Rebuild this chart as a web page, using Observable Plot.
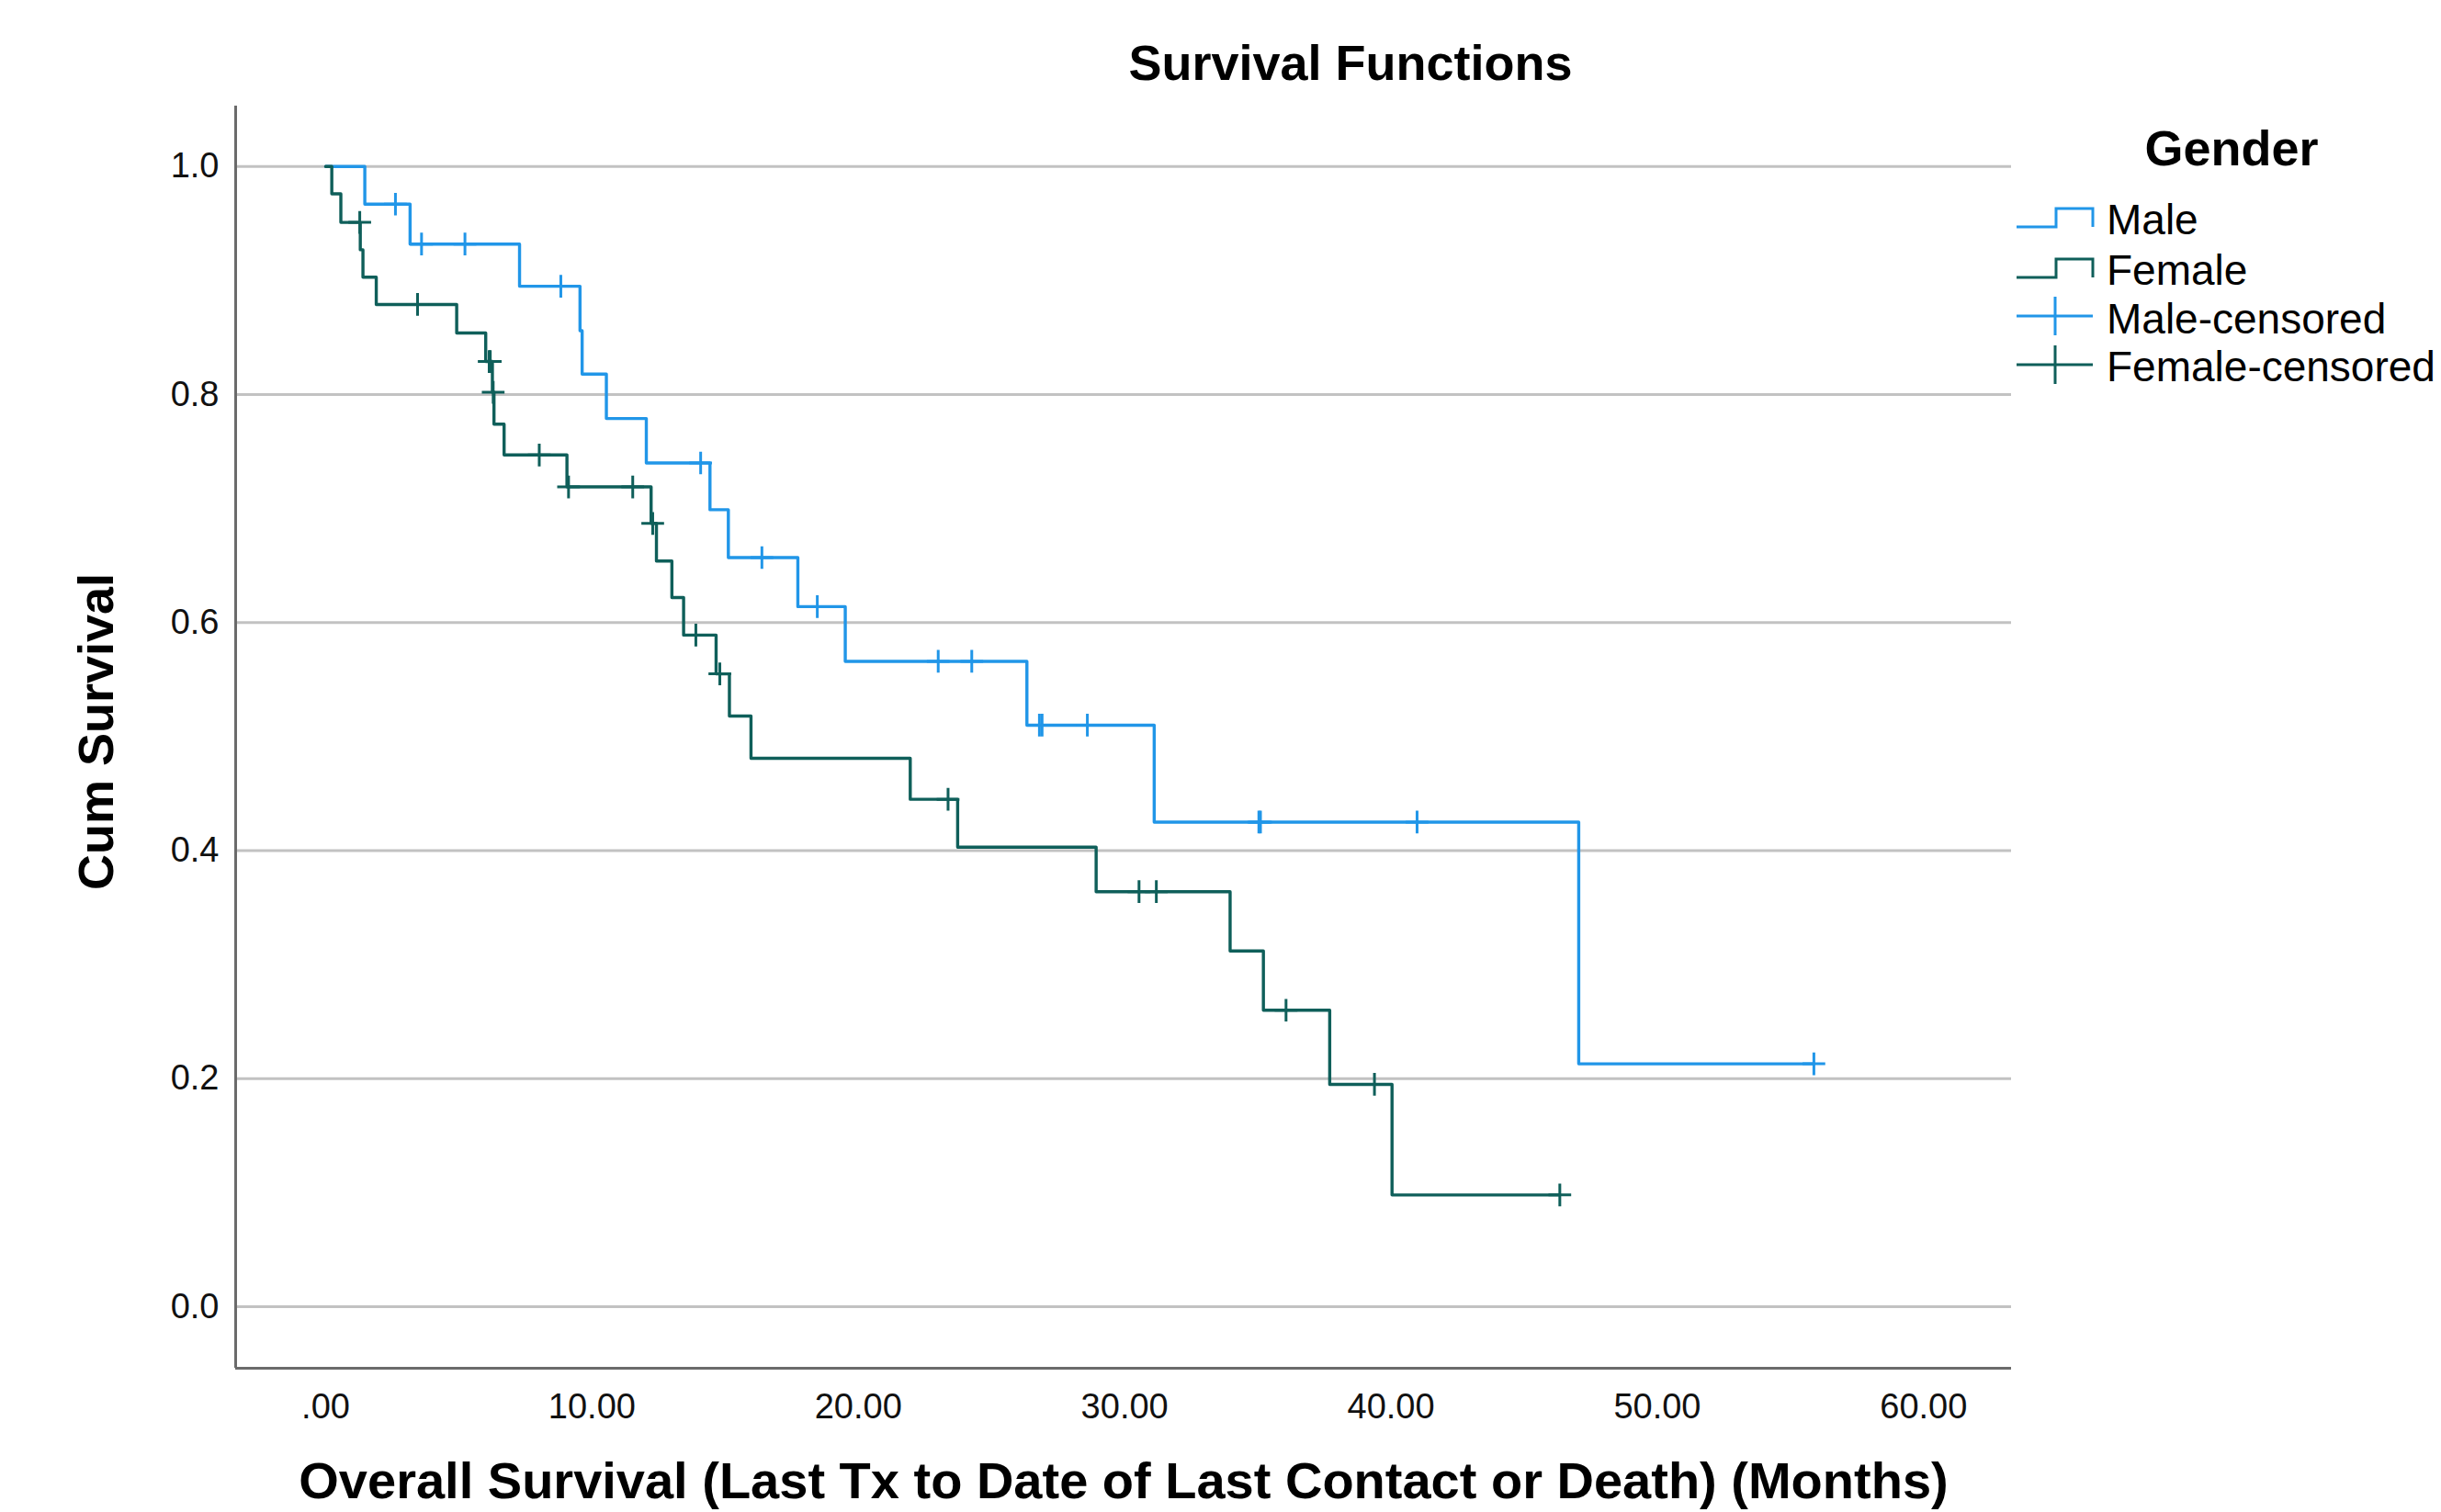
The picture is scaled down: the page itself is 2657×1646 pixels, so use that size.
<!DOCTYPE html>
<html>
<head>
<meta charset="utf-8">
<script src="https://cdn.jsdelivr.net/npm/d3@7"></script>
<script src="https://cdn.jsdelivr.net/npm/@observablehq/plot@0.6"></script>
<style>
  html, body { margin: 0; padding: 0; background: #fff; }
  #wrap { position: relative; width: 2657px; height: 1646px; overflow: hidden; font-family: "Liberation Sans", Arial, sans-serif; }
  #legend { position: absolute; left: 2150px; top: 120px; }
</style>
</head>
<body>
<div id="wrap"><div id="chart"></div><div id="legend"></div></div>
<script>
// ---- data ----
const groups = ["Male", "Female"];
const groupColors = ["#2196e8", "#0f5f5a"];

// Kaplan-Meier step points: time (months) and cumulative survival after the event
const maleTime = [0, 1.47, 3.17, 7.28, 9.55, 9.63, 10.54, 12.04, 14.43, 15.12, 17.73, 19.51, 26.33, 31.11, 47.05, 55.88];
const maleSurv = [1.0, 0.967, 0.932, 0.895, 0.856, 0.818, 0.779, 0.740, 0.699, 0.657, 0.614, 0.566, 0.510, 0.425, 0.213, 0.213];

const femaleTime = [0, 0.23, 0.57, 1.30, 1.40, 1.90, 4.92, 6.01, 6.26, 6.32, 6.70, 9.06, 12.22, 12.42, 13.00, 13.44, 14.66, 15.16, 15.97, 21.95, 23.73, 28.93, 33.96, 35.21, 37.70, 40.04, 46.34];
const femaleSurv = [1.0, 0.976, 0.951, 0.927, 0.903, 0.879, 0.854, 0.829, 0.802, 0.774, 0.747, 0.719, 0.687, 0.654, 0.622, 0.589, 0.555, 0.518, 0.481, 0.445, 0.403, 0.364, 0.312, 0.260, 0.195, 0.098, 0.098];

// censored observations
const maleCensTime = [2.62, 3.60, 5.23, 8.83, 14.08, 16.38, 18.46, 23.00, 24.26, 26.80, 26.90, 28.60, 35.04, 35.10, 40.98, 55.88];
const maleCensSurv = [0.967, 0.932, 0.932, 0.895, 0.740, 0.657, 0.614, 0.566, 0.566, 0.510, 0.510, 0.510, 0.425, 0.425, 0.425, 0.213];

const femaleCensTime = [1.28, 3.45, 6.14, 6.18, 6.29, 8.02, 9.12, 11.53, 12.28, 13.90, 14.80, 23.37, 30.54, 31.19, 36.06, 39.38, 46.34];
const femaleCensSurv = [0.951, 0.879, 0.829, 0.829, 0.802, 0.747, 0.719, 0.719, 0.687, 0.589, 0.555, 0.445, 0.364, 0.364, 0.260, 0.195, 0.098];

// axes
const xTicks = [0, 10, 20, 30, 40, 50, 60];
const yTicks = [0, 0.2, 0.4, 0.6, 0.8, 1.0];
const xDomain = [-3.38, 63.3];
const yDomain = [-0.054, 1.053];

const titleText = "Survival Functions";
const xLabel = "Overall Survival (Last Tx to Date of Last Contact or Death) (Months)";
const yLabel = "Cum Survival";
const legendTitle = "Gender";
const legendLabels = ["Male", "Female", "Male-censored", "Female-censored"];

// ---- build rows ----
const steps = [
  ...maleTime.map((t, i) => ({group: "Male", time: t, surv: maleSurv[i]})),
  ...femaleTime.map((t, i) => ({group: "Female", time: t, surv: femaleSurv[i]}))
];
const censored = [
  ...maleCensTime.map((t, i) => ({group: "Male", time: t, surv: maleCensSurv[i]})),
  ...femaleCensTime.map((t, i) => ({group: "Female", time: t, surv: femaleCensSurv[i]}))
];

const FONT = "'Liberation Sans', Arial, sans-serif";

const chart = Plot.plot({
  width: 2657,
  height: 1646,
  marginLeft: 256,
  marginRight: 468,
  marginTop: 115,
  marginBottom: 157,
  style: {fontFamily: FONT, fontSize: "38px", color: "#111", background: "#fff"},
  x: {domain: xDomain, ticks: xTicks, tickSize: 0, tickPadding: 28, label: null,
      tickFormat: d => d === 0 ? ".00" : d3.format(".2f")(d)},
  y: {domain: yDomain, ticks: yTicks, tickSize: 0, tickPadding: 18, label: null,
      tickFormat: d3.format(".1f")},
  color: {domain: groups, range: groupColors},
  marks: [
    Plot.ruleY(yTicks, {stroke: "#c2c2c2", strokeWidth: 3}),
    Plot.ruleX([xDomain[0]], {stroke: "#6b6b6b", strokeWidth: 3}),
    Plot.ruleY([yDomain[0]], {stroke: "#6b6b6b", strokeWidth: 3}),
    Plot.line(steps, {x: "time", y: "surv", z: "group", stroke: "group", curve: "step-after", strokeWidth: 3.4}),
    Plot.dot(censored, {x: "time", y: "surv", stroke: "group", symbol: "plus", r: 8, strokeWidth: 3}),
    Plot.text([titleText], {frameAnchor: "top", dx: 247, dy: -67, fontSize: 54, fontWeight: "bold", fill: "#000"}),
    Plot.text([xLabel], {frameAnchor: "bottom", dy: 141, fontSize: 56, fontWeight: "bold", fill: "#000"}),
    Plot.text([yLabel], {frameAnchor: "left", textAnchor: "middle", dx: -151, dy: -6, rotate: -90, fontSize: 54, fontWeight: "bold", fill: "#000"})
  ]
});
document.getElementById("chart").appendChild(chart);

// ---- legend ----
const lg = d3.select("#legend").append("svg").attr("width", 507).attr("height", 320)
  .style("font-family", FONT).style("overflow", "visible");
lg.append("text").attr("x", 279).attr("y", 60).attr("text-anchor", "middle")
  .attr("font-size", 54).attr("font-weight", "bold").attr("fill", "#000").text(legendTitle);
const rowBase = [127, 182, 224, 277];
const textBase = [135, 190, 243, 295];
legendLabels.forEach((lab, i) => {
  const col = groupColors[i % 2];
  const yb = rowBase[i];
  if (i < 2) {
    lg.append("path").attr("d", `M45,${yb}H88V${yb - 20}H128V${yb}`)
      .attr("fill", "none").attr("stroke", col).attr("stroke-width", 3);
  } else {
    lg.append("path").attr("d", `M45,${yb}H128M87,${yb - 21}V${yb + 21}`)
      .attr("fill", "none").attr("stroke", col).attr("stroke-width", 3);
  }
  lg.append("text").attr("x", 143).attr("y", textBase[i]).attr("font-size", 46)
    .attr("fill", "#000").text(lab);
});
</script>
</body>
</html>
